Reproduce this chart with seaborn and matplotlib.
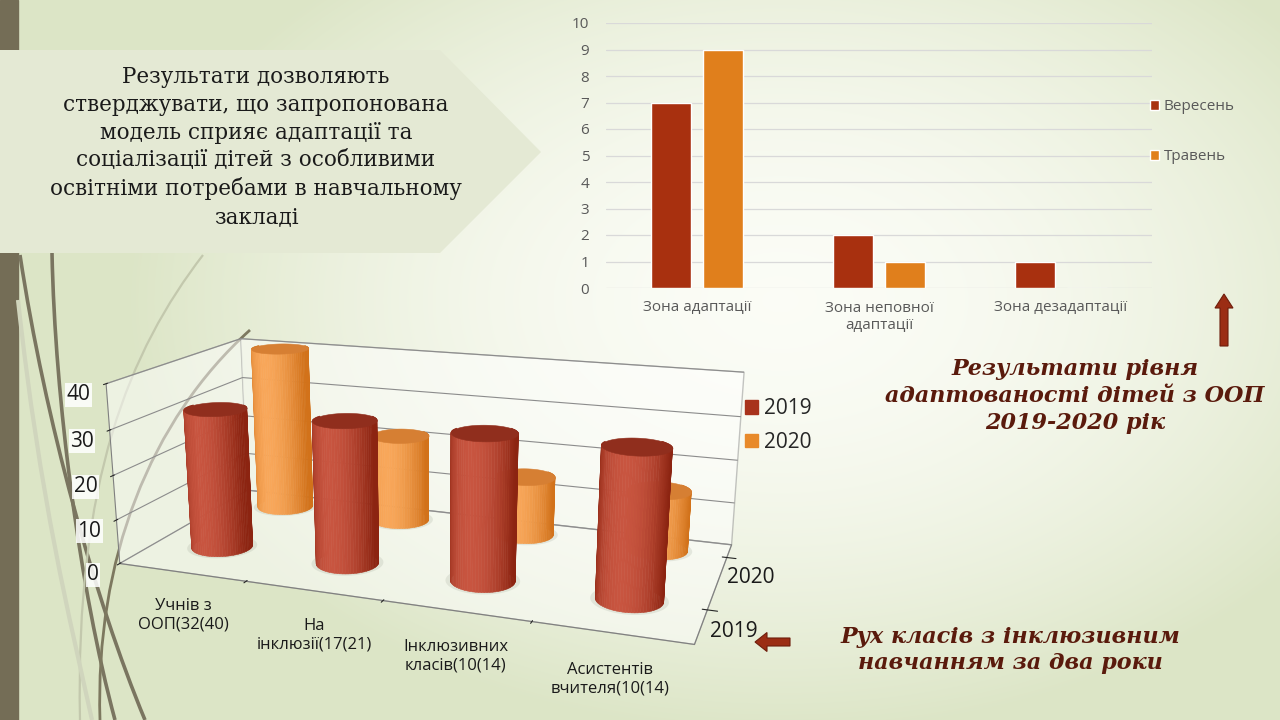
import numpy as np
import pandas as pd
import matplotlib
matplotlib.use("Agg")
import matplotlib.pyplot as plt
import seaborn as sns
from matplotlib.patches import Polygon, FancyArrow, PathPatch, Patch
from matplotlib.path import Path
from mpl_toolkits.mplot3d.art3d import Poly3DCollection

# top chart: adaptation levels
zones = ["Зона адаптації", "Зона неповної\nадаптації", "Зона дезадаптації"]
months = ["Вересень", "Травень"]
september = [7, 2, 1]
may = [9, 1, 0]

# bottom chart: inclusive classes over two years
groups = ["Учнів з\nООП(32(40)", "На\nінклюзії(17(21)",
          "Інклюзивних\nкласів(10(14)", "Асистентів\nвчителя(10(14)"]
years = ["2019", "2020"]
count_2019 = [32, 32, 32, 32]
count_2020 = [40, 21, 14, 14]

sns.set_style("white")
plt.rcParams["font.family"] = ["Open Sans", "DejaVu Sans"]

fig = plt.figure(figsize=(12.8, 7.2), dpi=100)

# background layer in pixel coordinates
bg = fig.add_axes([0, 0, 1, 1], zorder=0)
bg.set_xlim(0, 1280)
bg.set_ylim(720, 0)
bg.axis("off")
yy, xx = np.mgrid[0:720, 0:1280]
d = np.sqrt(((xx - 780) / 650.0) ** 2 + ((yy - 300) / 430.0) ** 2)
d = np.clip(d, 0, 1) ** 1.8
c0 = np.array([0.985, 0.99, 0.965])
c1 = np.array([0.865, 0.9, 0.78])
img = c0[None, None, :] * (1 - d[..., None]) + c1[None, None, :] * d[..., None]
bg.imshow(img, extent=[0, 1280, 720, 0], aspect="auto", zorder=0)

bg.add_patch(plt.Rectangle((0, 0), 18, 720, color="#746d56", zorder=1))

curves = [
    ([(20, 255), (45, 420), (95, 600), (145, 720)], "#7a7560", 2.6),
    ([(52, 253), (55, 400), (80, 590), (115, 720)], "#7a7560", 2.6),
    ([(100, 720), (95, 560), (150, 420), (250, 330)], "#7d785f", 2.0),
    ([(203, 255), (130, 350), (75, 480), (80, 720)], "#c3c8ad", 1.6),
    ([(18, 300), (40, 500), (70, 620), (92, 720)], "#d0d5bd", 3.0),
]
for pts, col, lw in curves:
    path = Path(pts, [Path.MOVETO, Path.CURVE4, Path.CURVE4, Path.CURVE4])
    bg.add_patch(PathPatch(path, fill=False, edgecolor=col, lw=lw, zorder=2))

callout = Polygon([(0, 50), (440, 50), (541, 152), (440, 253), (0, 253)],
                  closed=True, facecolor="#e4e9d4", edgecolor="none", zorder=3)
bg.add_patch(callout)
bg.text(256, 147, "Результати дозволяють\nстверджувати, що запропонована\n"
        "модель сприяє адаптації та\nсоціалізації дітей з особливими\n"
        "освітніми потребами в навчальному\nзакладі",
        ha="center", va="center", fontsize=15.5, family="DejaVu Serif",
        color="#1a1a1a", linespacing=1.33, zorder=4)

title_kw = dict(ha="center", va="center", family="DejaVu Serif", weight="bold",
                style="italic", color="#5a1a0c", zorder=4)
bg.text(1075, 396, "Результати рівня\nадаптованості дітей з ООП\n2019-2020 рік",
        fontsize=16, linespacing=1.3, **title_kw)
bg.text(1010, 650, "Рух класів з інклюзивним\nнавчанням за два роки",
        fontsize=16, linespacing=1.25, **title_kw)

bg.add_patch(FancyArrow(1224, 346, 0, -52, width=8, head_width=18, head_length=14,
                        length_includes_head=True, facecolor="#9b2d14",
                        edgecolor="#6e1e0c", lw=0.8, zorder=4))
bg.add_patch(FancyArrow(790, 642, -35, 0, width=8, head_width=19, head_length=12,
                        length_includes_head=True, facecolor="#9b2d14",
                        edgecolor="#6e1e0c", lw=0.8, zorder=4))

# ---- top bar chart ----
df1 = pd.DataFrame({
    "zone": zones * 2,
    "month": [months[0]] * 3 + [months[1]] * 3,
    "value": september + may,
})
ax1 = fig.add_axes([606 / 1280, 1 - 288 / 720, 546 / 1280, 265 / 720], zorder=5)
ax1.patch.set_alpha(0)
sns.barplot(data=df1, x="zone", y="value", hue="month",
            palette=["#a8300f", "#e07f1c"], saturation=1,
            width=0.57, gap=0.23, ax=ax1)
ax1.set_ylim(0, 10)
ax1.set_yticks(range(0, 11))
ax1.set_xlim(-0.5, 2.5)
ax1.grid(axis="y", color="#d9d9d9", lw=0.9)
ax1.set_axisbelow(True)
for s in ax1.spines.values():
    s.set_visible(False)
ax1.tick_params(length=0, labelsize=11, colors="#595959")
ax1.tick_params(axis="x", pad=9)
ax1.tick_params(axis="y", pad=12)
ax1.set_xlabel("")
ax1.set_ylabel("")
ax1.legend(loc="center left", bbox_to_anchor=(0.982, 0.59), frameon=False,
           fontsize=11, labelcolor="#595959", handlelength=0.6, handleheight=0.6,
           handletextpad=0.3, labelspacing=2.3, borderpad=0)

# ---- bottom 3D cylinder chart ----
ax2 = fig.add_axes([-0.007, 0.032, 0.68, 0.62], projection="3d", zorder=5)
ax2.patch.set_alpha(0)
ax2.computed_zorder = False
box = (3.1, 1.45, 1.0)
ylo, yhi = -0.55, 1.28
ax2.set_xlim(-0.5, 3.5)
ax2.set_ylim(ylo, yhi)
ax2.set_zlim(0, 40)
ax2.set_box_aspect(box, zoom=1.42)
azim, elev = -70, 16
ax2.view_init(elev=elev, azim=azim)
ax2.set_proj_type("persp", focal_length=0.5)

for axis in (ax2.xaxis, ax2.yaxis, ax2.zaxis):
    axis.pane.set_facecolor((1, 1, 1, 0))
    axis.pane.set_edgecolor("#8c8c8c")
    axis.line.set_color("#7f7f7f")
    axis.line.set_linewidth(0.8)
    axis.label.set_visible(False)
    axis.get_offset_text().set_visible(False)
ax2.xaxis._axinfo["grid"].update(color=(0, 0, 0, 0))
ax2.yaxis._axinfo["grid"].update(color=(0, 0, 0, 0))
ax2.zaxis._axinfo["grid"].update(color="#8c8c8c", linewidth=0.8)
ax2.zaxis.set_ticks_position("lower")
ax2.zaxis.set_label_position("lower")

r = 0.22
ry = r * (box[0] / 4.0) / (box[1] / (yhi - ylo))
view_ang = np.deg2rad(azim)
light_ang = np.deg2rad(azim - 25)


def add_poly(polys, cols, z):
    pc = Poly3DCollection(polys, facecolors=cols, edgecolors=cols, linewidths=0.4, zorder=z)
    pc.set_clip_on(False)
    ax2.add_collection3d(pc)


def cylinder(xc, yc, h, dark, light, top_col, layer, n=72):
    t = np.linspace(0, 2 * np.pi, n + 1)
    xs = xc + r * np.cos(t)
    ys = yc + ry * np.sin(t)
    dk = np.array(matplotlib.colors.to_rgb(dark))
    lt = np.array(matplotlib.colors.to_rgb(light))
    # soft floor shadow
    shadow = [list(zip(xc + 1.15 * r * np.cos(t), yc + 1.15 * ry * np.sin(t), np.zeros(n + 1)))]
    pc = Poly3DCollection(shadow, facecolors=[(0.6, 0.63, 0.57, 0.2)], edgecolors="none",
                          zorder=layer)
    pc.set_clip_on(False)
    ax2.add_collection3d(pc)
    polys, cols = [], []
    for i in range(n):
        mid = (t[i] + t[i + 1]) / 2
        if np.cos(mid - view_ang) < -0.55:
            continue
        polys.append([(xs[i], ys[i], 0), (xs[i + 1], ys[i + 1], 0),
                      (xs[i + 1], ys[i + 1], h), (xs[i], ys[i], h)])
        f = np.clip(np.cos(mid - light_ang), 0, 1) ** 1.4
        cols.append(tuple(dk * (1 - f) + lt * f))
    add_poly(polys, cols, layer + 0.1)
    add_poly([list(zip(xs, ys, np.full(n + 1, h)))], [top_col], layer + 0.2)


for i in range(len(groups)):
    cylinder(i, 1, count_2020[i], "#d2721a", "#f8a75a", "#d67f33", 2 + 0.3 * i)
for i in range(len(groups)):
    cylinder(i, 0, count_2019[i], "#8c2411", "#c85540", "#902e1d", 4 + 0.3 * i)

# category ticks sit between the groups, labels centred under each group
ax2.set_xticks([i + 0.5 for i in range(len(groups) - 1)])
ax2.xaxis.set_ticklabels([])
for tick in ax2.xaxis.get_major_ticks():
    tick.label1.set_visible(False)
for i, lab in enumerate(groups):
    ax2.text(i, ylo, -6, lab, fontsize=12, color="#1a1a1a", ha="center", va="top",
             zorder=10)
ax2.set_yticks([0, 1])
ax2.set_yticklabels(years, fontsize=15, color="#1a1a1a")
ax2.tick_params(axis="y", pad=-1)
ax2.set_zticks(range(0, 41, 10))
ax2.set_zticklabels([str(v) for v in range(0, 41, 10)], fontsize=15, color="#1a1a1a",
                    bbox=dict(facecolor="white", edgecolor="none", pad=1, alpha=0.85))
ax2.tick_params(axis="z", pad=-1)

fig.legend(handles=[Patch(color="#a8321c"), Patch(color="#e88a2a")], labels=years,
           loc="upper left", bbox_to_anchor=(735 / 1280, 1 - 388 / 720), frameon=False,
           fontsize=15, handlelength=0.6, handleheight=0.6, handletextpad=0.3,
           labelspacing=0.6, borderpad=0)

fig.savefig("out.png", dpi=100)
